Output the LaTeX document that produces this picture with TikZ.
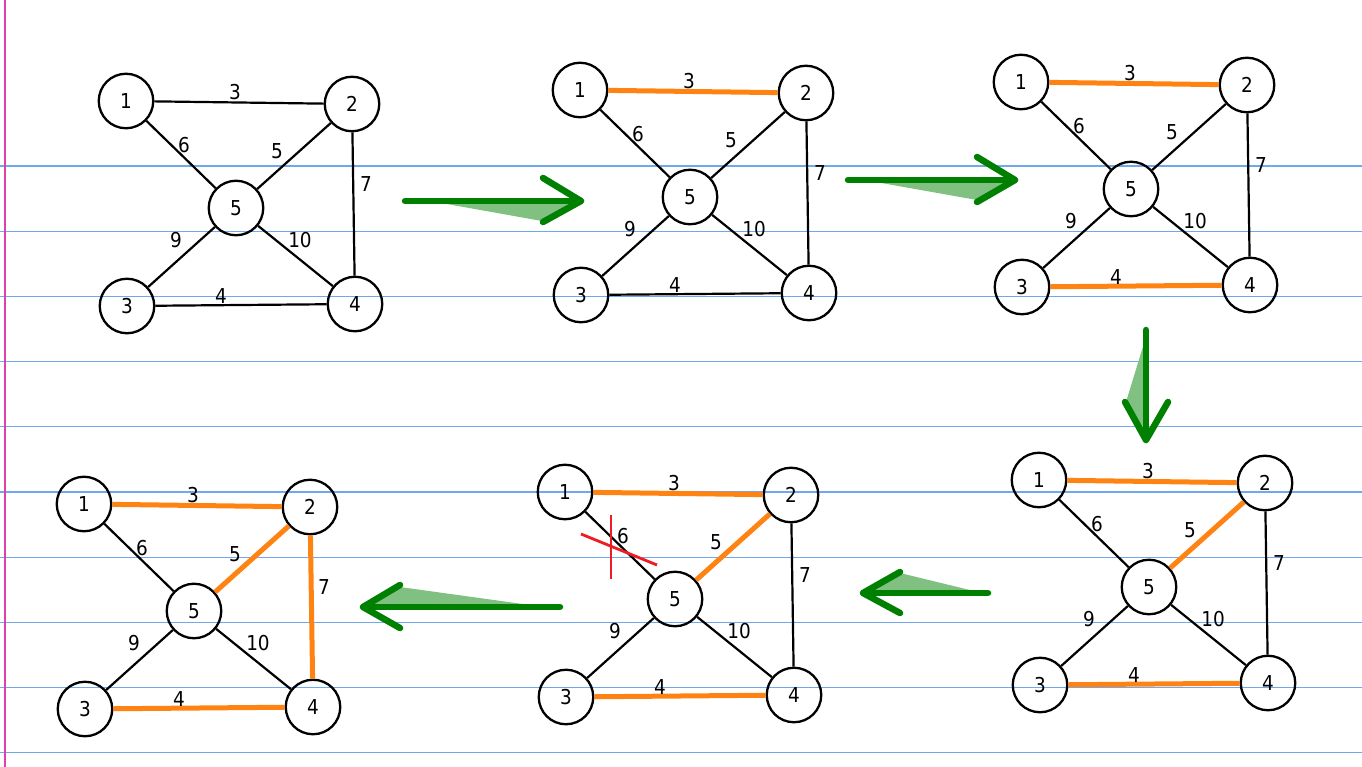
\documentclass[tikz,border=0pt]{standalone}
\usepackage{fontspec}
\setmainfont{DejaVu Sans Condensed}
\definecolor{kruOrange}{HTML}{FF8312}
\definecolor{kruGreen}{HTML}{008000}
\definecolor{kruShade}{HTML}{80C080}
\definecolor{kruRule}{HTML}{6FA8EE}
\definecolor{kruMargin}{HTML}{E040A8}
\definecolor{kruRed}{HTML}{EE1C25}

% one copy of the five-vertex graph; #1 name prefix, #2 origin, #3 edge styles
\newcommand{\kgraph}[3]{%
  \begin{scope}[shift={#2},#3]
    \node[vtx] (#1-1) at (0,0) {1};
    \node[vtx] (#1-2) at (226,3) {2};
    \node[vtx] (#1-5) at (110,107) {5};
    \node[vtx] (#1-3) at (1,205) {3};
    \node[vtx] (#1-4) at (229,203) {4};
    \draw[e15] (#1-1) -- node[lbl,shift={(3,-9.5)}] {6} (#1-5);
    \draw[e53] (#1-5) -- node[lbl,shift={(-5.5,-17)}] {9} (#1-3);
    \draw[e54] (#1-5) -- node[lbl,shift={(4.5,-16)}] {10} (#1-4);
    \draw[e12] (#1-1) -- node[lbl,shift={(-4,-10.5)}] {3} (#1-2);
    \draw[e34] (#1-3) -- node[lbl,shift={(-20,-9)}] {4} (#1-4);
    \draw[e25] (#1-2) -- node[lbl,shift={(-17,-5)}] {5} (#1-5);
    \draw[e24] (#1-2) -- node[lbl,shift={(12.5,-20)}] {7} (#1-4);
  \end{scope}}

\begin{document}
\begin{tikzpicture}[x=1pt,y=-1pt,
    vtx/.style={circle,draw,line width=2.3pt,minimum size=54.5pt,inner sep=0pt,
                font=\fontsize{20.5}{23}\selectfont},
    lbl/.style={inner sep=0pt,font=\fontsize{20.5}{23}\selectfont},
    plain/.style={draw=black,line width=2.2pt},
    mst/.style={draw=kruOrange,line width=5pt},
    e12/.style={plain},e15/.style={plain},e25/.style={plain},e24/.style={plain},
    e53/.style={plain},e54/.style={plain},e34/.style={plain},
    garrow/.style={draw=kruGreen,line width=6.5pt,line cap=round,line join=round},
    shade/.style={fill=kruShade},
    cross/.style={draw=kruRed,line width=2.8pt},
    rule/.style={draw=kruRule,line width=1.3pt}]
  \useasboundingbox (0,0) rectangle (1362,767);
  \fill[white] (0,0) rectangle (1362,767);

  % notebook paper
  \foreach \k in {0,...,9}
    \draw[rule] (0,{166+65.2*\k}) -- (1362,{166+65.2*\k});
  \draw[draw=kruMargin,line width=1.5pt] (5,0) -- (5,767);

  % the six stages
  \kgraph{a}{(126,101)}{}
  \kgraph{b}{(580,90)}{e12/.style={mst}}
  \kgraph{c}{(1021,82)}{e12/.style={mst},e34/.style={mst}}
  \kgraph{d}{(1039,480)}{e12/.style={mst},e34/.style={mst},e25/.style={mst}}
  \kgraph{e}{(565,492)}{e12/.style={mst},e34/.style={mst},e25/.style={mst}}
  \kgraph{f}{(84,504)}{e12/.style={mst},e34/.style={mst},e25/.style={mst},e24/.style={mst}}

  % rejected edge
  \draw[cross] ([shift={(46,23)}]e-1.center) -- ([shift={(46,87)}]e-1.center);
  \draw[cross] ([shift={(16,42)}]e-1.center) -- ([shift={(92,73)}]e-1.center);

  % arrows between stages
  \fill[shade] (430,201) -- (542,221) -- (580,201) -- cycle;
  \draw[garrow] (405,201) -- (581,201);
  \draw[garrow] (543,178) -- (581,201) -- (543,222);

  \fill[shade] (870,181) -- (977,200) -- (1014,180) -- cycle;
  \draw[garrow] (848,180) -- (1015,180);
  \draw[garrow] (977,157) -- (1015,180) -- (977,202);

  \fill[shade] (1145,340) -- (1126,402) -- (1145,438) -- cycle;
  \draw[garrow] (1146,330) -- (1146,440);
  \draw[garrow] (1125,402) -- (1146,440) -- (1168,402);

  \fill[shade] (900,573) -- (978,592) -- (864,593) -- cycle;
  \draw[garrow] (988,593) -- (863,593);
  \draw[garrow] (900,572) -- (863,593) -- (900,613);

  \fill[shade] (400,587) -- (537,606) -- (364,607) -- cycle;
  \draw[garrow] (560,607) -- (363,607);
  \draw[garrow] (400,585) -- (363,607) -- (400,628);
\end{tikzpicture}
\end{document}
